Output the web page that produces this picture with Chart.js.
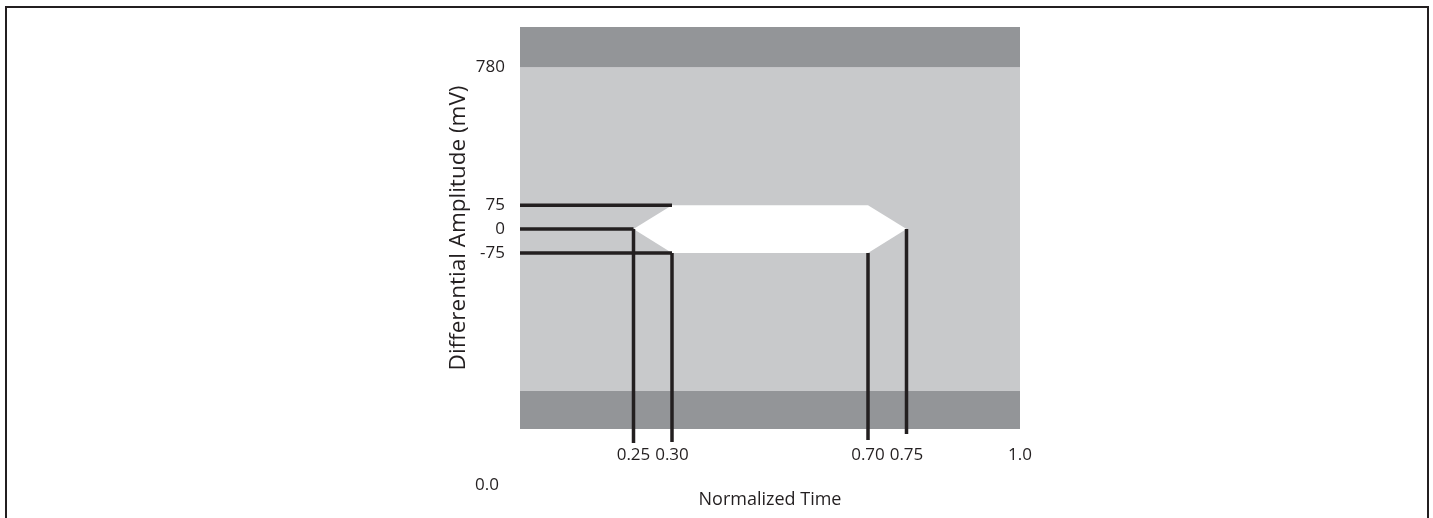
<!DOCTYPE html>
<html lang="en">
<head>
    <meta charset="UTF-8">
    <title>Eye Mask</title>
    <style>
        body {
            margin: 0;
            padding: 0;
            background-color: #fff;
        }

        .chart-container {
            position: relative;
            width: 1433px;
            height: 518px;
        }
    </style>
</head>
<body>
    <div class="chart-container">
        <canvas id="eyeChart"></canvas>
    </div>

    <script src="https://cdn.jsdelivr.net/npm/chart.js"></script>
    <script>
        // The figure is a schematic, not to scale: each nominal value is
        // paired with the position it is drawn at on the axis.
        const timeTickLabels = ['0.25', '0.30', '0.70', '0.75', '1.0'];
        const timeDrawn = [0.227, 0.304, 0.696, 0.773, 1.0];
        const ampTickLabels = ['780', '75', '0', '-75'];
        const ampDrawn = [510, 75, 0, -75];

        // eye opening: corners at 0.25 / 0.30 / 0.70 / 0.75, +-75 mV
        const eyeTime = [0.227, 0.304, 0.696, 0.773];
        const eyeUpper = [0, 75, 75, 0];
        const eyeLower = [0, -75, -75, 0];

        // guide lines to the axes
        const levelValues = [75, 0, -75];
        const levelEnds = [0.304, 0.227, 0.304];
        const markerTimes = [0.227, 0.304, 0.696, 0.773];
        const markerStarts = [0, -75, -75, 0];
        const markerEnds = [-674, -671, -665, -646];

        // 780 mV limit band edge (drawn position)
        const limitPos = 510;

        const timeRange = [0, 1];
        const ampRange = [-630, 637];

        const INK = '#231f20';
        const DARK = '#939598';
        const LIGHT = '#c8c9cb';

        Chart.defaults.font.family = "'Open Sans', sans-serif";
        Chart.defaults.color = INK;

        function hLine(y) {
            return [{ x: timeRange[0], y: y }, { x: timeRange[1], y: y }];
        }

        const datasets = [];

        levelValues.forEach((v, i) => {
            datasets.push({
                data: [{ x: timeRange[0], y: v }, { x: levelEnds[i], y: v }],
                borderColor: INK, borderWidth: 3.5, pointRadius: 0, fill: false, order: 1
            });
        });
        markerTimes.forEach((t, i) => {
            datasets.push({
                data: [{ x: t, y: markerStarts[i] }, { x: t, y: markerEnds[i] }],
                borderColor: INK, borderWidth: 3.5, pointRadius: 0, fill: false, clip: false, order: 1
            });
        });

        // white eye: upper and lower halves filled to 0 mV
        [eyeUpper, eyeLower].forEach(arr => {
            datasets.push({
                data: eyeTime.map((t, i) => ({ x: t, y: arr[i] })),
                borderColor: 'rgba(0,0,0,0)', borderWidth: 0, pointRadius: 0,
                fill: 'origin', backgroundColor: '#ffffff', order: 2
            });
        });

        // limit bands
        datasets.push({
            data: hLine(limitPos), borderColor: 'rgba(0,0,0,0)', borderWidth: 0, pointRadius: 0,
            fill: 'end', backgroundColor: DARK, order: 3
        });
        datasets.push({
            data: hLine(-limitPos), borderColor: 'rgba(0,0,0,0)', borderWidth: 0, pointRadius: 0,
            fill: 'start', backgroundColor: DARK, order: 3
        });
        datasets.push({
            data: hLine(limitPos), borderColor: 'rgba(0,0,0,0)', borderWidth: 0, pointRadius: 0,
            fill: { value: -limitPos }, backgroundColor: LIGHT, order: 3
        });

        const frameAndOrigin = {
            id: 'frameAndOrigin',
            beforeDraw(chart) {
                const ctx = chart.ctx;
                ctx.save();
                ctx.strokeStyle = INK;
                ctx.lineWidth = 2;
                ctx.strokeRect(6, 7, 1422, 600);
                ctx.restore();
            },
            afterDraw(chart) {
                // the 0.0 label sits below and left of the axis origin in the figure
                const ctx = chart.ctx;
                const x = chart.scales.x.getPixelForValue(0);
                ctx.save();
                ctx.fillStyle = INK;
                ctx.font = "17px 'Open Sans', sans-serif";
                ctx.textAlign = 'center';
                ctx.textBaseline = 'middle';
                ctx.fillText('0.0', x - 33, chart.chartArea.bottom + 56);
                ctx.restore();
            }
        };

        new Chart(document.getElementById('eyeChart'), {
            type: 'line',
            data: { datasets: datasets },
            options: {
                responsive: true,
                maintainAspectRatio: false,
                animation: false,
                layout: { padding: { left: 440, right: 413, top: 27, bottom: 0 } },
                plugins: { legend: { display: false }, tooltip: { enabled: false } },
                scales: {
                    x: {
                        type: 'linear',
                        min: timeRange[0],
                        max: timeRange[1],
                        grid: { display: false, drawTicks: false },
                        border: { display: false },
                        afterFit: scale => { scale.height = 89; },
                        afterBuildTicks: scale => { scale.ticks = timeDrawn.map(v => ({ value: v })); },
                        ticks: {
                            autoSkip: false,
                            maxRotation: 0,
                            padding: 16,
                            font: { size: 17 },
                            callback: (value, index) => timeTickLabels[index]
                        },
                        title: {
                            display: true,
                            text: 'Normalized Time',
                            font: { size: 18 },
                            padding: { top: 0, bottom: 7 }
                        }
                    },
                    y: {
                        type: 'linear',
                        min: ampRange[0],
                        max: ampRange[1],
                        grid: { display: false, drawTicks: false },
                        border: { display: false },
                        afterFit: scale => { scale.width = 80; },
                        afterBuildTicks: scale => { scale.ticks = ampDrawn.map(v => ({ value: v })); },
                        ticks: {
                            autoSkip: false,
                            padding: 15,
                            font: { size: 17 },
                            callback: (value, index) => ampTickLabels[index]
                        },
                        title: {
                            display: true,
                            text: 'Differential Amplitude (mV)',
                            font: { size: 22.5 },
                            padding: { top: 5, bottom: 0 }
                        }
                    }
                }
            },
            plugins: [frameAndOrigin]
        });
    </script>
</body>
</html>
